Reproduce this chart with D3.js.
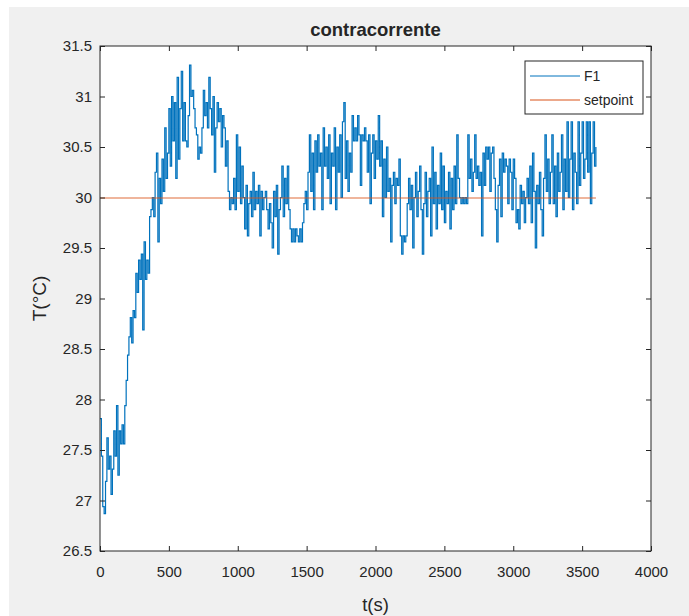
<!DOCTYPE html>
<html>
<head>
<meta charset="utf-8">
<script src="https://cdn.jsdelivr.net/npm/d3@7"></script>
<style>
  body { margin: 0; background: #fff; }
  svg { display: block; }
  text { font-family: "Liberation Sans", Arial, Helvetica, sans-serif; fill: #262626; }
</style>
</head>
<body>
<svg></svg>
<script>
// sample period of the logged signal (s)
var sampleStep = 10;

// F1 temperature, one value every 10 s, rows of 100 s
var f1 = [
  27.81, 27.44, 26.94, 26.87, 27.19, 27.62, 27.31, 27.44, 27.06, 27.31, // 0
  27.69, 27.44, 27.94, 27.25, 27.69, 27.56, 27.75, 27.56, 27.94, 28.19, // 100
  28.44, 28.62, 28.81, 28.56, 28.88, 28.81, 29.25, 29.06, 29.38, 29.19, // 200
  29.44, 28.69, 29.56, 29.19, 29.38, 29.25, 29.81, 29.88, 30.00, 29.81, // 300
  30.25, 30.44, 29.56, 30.19, 29.94, 30.38, 30.06, 30.69, 30.19, 30.44, // 400
  30.88, 30.31, 31.00, 30.56, 30.94, 30.19, 31.19, 30.38, 30.88, 31.25, // 500
  30.56, 30.94, 30.56, 30.50, 30.81, 31.31, 31.00, 31.06, 30.88, 30.69, // 600
  30.62, 30.38, 30.50, 30.44, 30.69, 31.06, 30.81, 30.94, 30.69, 31.19, // 700
  30.88, 30.62, 31.00, 30.25, 30.69, 30.94, 30.75, 30.88, 30.50, 30.81, // 800
  30.69, 30.31, 30.56, 30.06, 29.88, 30.00, 29.94, 30.19, 29.88, 30.62, // 900
  30.06, 30.50, 29.94, 30.31, 30.00, 29.69, 30.12, 29.62, 29.94, 30.06, // 1000
  29.81, 30.25, 29.88, 30.06, 29.94, 30.12, 29.62, 30.06, 29.88, 30.00, // 1100
  30.06, 29.88, 29.69, 29.94, 29.75, 29.50, 30.06, 29.81, 30.12, 29.44, // 1200
  29.88, 30.00, 30.31, 29.81, 30.19, 29.94, 30.31, 29.88, 29.69, 29.56, // 1300
  29.69, 29.56, 29.69, 29.62, 29.56, 29.69, 29.56, 29.75, 29.94, 30.06, // 1400
  29.88, 30.25, 30.62, 30.06, 30.44, 29.88, 30.56, 30.25, 30.62, 30.31, // 1500
  30.44, 29.88, 30.69, 30.31, 30.50, 30.19, 30.62, 29.94, 30.44, 30.31, // 1600
  30.69, 29.88, 30.50, 30.25, 30.62, 30.00, 30.75, 30.94, 30.19, 30.56, // 1700
  30.06, 30.44, 30.25, 30.81, 30.56, 30.69, 30.56, 30.81, 30.62, 30.12, // 1800
  30.62, 30.56, 30.69, 30.56, 30.25, 30.62, 29.94, 30.44, 30.62, 30.19, // 1900
  30.56, 30.38, 30.81, 30.31, 30.56, 29.81, 30.38, 30.00, 30.50, 30.06, // 2000
  30.19, 29.56, 30.12, 30.25, 29.94, 30.19, 30.12, 30.38, 29.62, 29.44, // 2100
  29.62, 29.56, 29.62, 29.94, 30.19, 29.88, 30.12, 29.50, 30.00, 30.25, // 2200
  29.81, 30.06, 30.31, 29.88, 29.44, 29.94, 30.25, 29.81, 30.06, 30.19, // 2300
  29.62, 30.50, 29.94, 30.25, 29.69, 30.12, 29.94, 30.44, 29.88, 30.31, // 2400
  29.75, 30.06, 29.94, 30.25, 29.69, 30.19, 29.88, 30.31, 29.94, 30.62, // 2500
  30.19, 30.00, 29.94, 30.00, 29.94, 30.00, 29.94, 30.62, 30.19, 30.38, // 2600
  30.06, 30.25, 30.62, 30.19, 30.31, 30.12, 30.25, 29.62, 30.44, 30.12, // 2700
  30.50, 30.38, 30.50, 30.06, 30.44, 30.50, 30.19, 29.88, 29.56, 30.12, // 2800
  30.38, 29.81, 30.44, 30.25, 30.38, 30.31, 29.94, 30.38, 30.25, 29.88, // 2900
  30.38, 30.19, 29.75, 29.88, 29.69, 30.12, 29.94, 30.06, 29.75, 30.00, // 3000
  30.19, 29.94, 30.31, 29.75, 30.44, 30.06, 29.50, 30.12, 29.94, 30.25, // 3100
  29.88, 29.62, 30.19, 30.62, 30.06, 30.38, 29.94, 30.25, 30.62, 29.94, // 3200
  30.31, 29.81, 30.44, 30.06, 30.25, 30.62, 29.88, 30.38, 30.06, 30.75, // 3300
  30.00, 30.38, 30.75, 29.88, 30.44, 30.25, 29.94, 30.75, 30.12, 30.44, // 3400
  30.75, 30.19, 30.38, 30.75, 30.25, 30.75, 29.94, 30.44, 30.75, 30.31, // 3500
  30.50                                                                 // 3600
];

var setpoint = 30;
var setpointSpan = [0, 3600];

var xTicks = [0, 500, 1000, 1500, 2000, 2500, 3000, 3500, 4000];
var yTicks = [26.5, 27, 27.5, 28, 28.5, 29, 29.5, 30, 30.5, 31, 31.5];
var seriesNames = ["F1", "setpoint"];
var seriesColors = ["#0072BD", "#D95319"];

var width = 689, height = 616;
var margin = {top: 46, right: 38, bottom: 65, left: 100};
var plotW = width - margin.left - margin.right,
    plotH = height - margin.top - margin.bottom;

var svg = d3.select("svg")
  .attr("width", width)
  .attr("height", height);

// figure background (screenshot has a thin white border top/left)
svg.append("rect")
  .attr("x", 9).attr("y", 7)
  .attr("width", width - 9).attr("height", height - 7)
  .attr("fill", "#f0f0f0");

var x = d3.scaleLinear().domain([0, 4000]).range([0, plotW]);
var y = d3.scaleLinear().domain([26.5, 31.5]).range([plotH, 0]);

var g = svg.append("g")
  .attr("transform", "translate(" + margin.left + "," + margin.top + ")");

g.append("rect")
  .attr("width", plotW)
  .attr("height", plotH)
  .attr("fill", "#fff");

var points = f1.map(function(v, i) { return [i * sampleStep, v]; });

// quantised sensor readings -> stair steps, like the original plot
var line = d3.line()
  .x(function(d) { return x(d[0]); })
  .y(function(d) { return y(d[1]); })
  .curve(d3.curveStepAfter);

g.append("path")
  .datum(points)
  .attr("fill", "none")
  .attr("stroke", seriesColors[0])
  .attr("stroke-width", 1.2)
  .attr("d", line);

g.append("line")
  .attr("x1", x(setpointSpan[0]))
  .attr("x2", x(setpointSpan[1]))
  .attr("y1", y(setpoint) + 0.5)
  .attr("y2", y(setpoint) + 0.5)
  .attr("stroke", seriesColors[1])
  .attr("stroke-opacity", 0.85)
  .attr("stroke-width", 1.2);

// axes, ticks pointing inward on all four sides
function styleAxis(sel) {
  sel.selectAll("path").remove();
  sel.selectAll("line").attr("stroke", "#262626");
  sel.selectAll("text").style("font-size", "15px").attr("fill", "#262626");
}

g.append("g")
  .attr("transform", "translate(0," + plotH + ")")
  .call(d3.axisBottom(x).tickValues(xTicks).tickSize(-5).tickPadding(15).tickFormat(d3.format("d")))
  .call(styleAxis);

g.append("g")
  .call(d3.axisTop(x).tickValues(xTicks).tickSize(-5).tickFormat(""))
  .call(styleAxis);

g.append("g")
  .call(d3.axisLeft(y).tickValues(yTicks).tickSize(-5).tickPadding(8).tickFormat(function(d) { return String(d); }))
  .call(styleAxis);

g.append("g")
  .attr("transform", "translate(" + plotW + ",0)")
  .call(d3.axisRight(y).tickValues(yTicks).tickSize(-5).tickFormat(""))
  .call(styleAxis);

g.append("rect")
  .attr("width", plotW)
  .attr("height", plotH)
  .attr("fill", "none")
  .attr("stroke", "#262626")
  .attr("stroke-width", 1);

// labels
svg.append("text")
  .attr("x", margin.left + plotW / 2)
  .attr("y", 36)
  .attr("text-anchor", "middle")
  .style("font-size", "18.5px")
  .style("font-weight", "bold")
  .attr("fill", "#000")
  .text("contracorrente");

svg.append("text")
  .attr("x", margin.left + plotW / 2)
  .attr("y", 611)
  .attr("text-anchor", "middle")
  .style("font-size", "18.5px")
  .text("t(s)");

svg.append("text")
  .attr("transform", "translate(46," + (margin.top + plotH / 2) + ") rotate(-90)")
  .attr("text-anchor", "middle")
  .style("font-size", "19px")
  .text("T(°C)");

// legend
var legend = svg.append("g").attr("transform", "translate(525,61)");
legend.append("rect")
  .attr("width", 118).attr("height", 53)
  .attr("fill", "#fff")
  .attr("stroke", "#262626");

seriesNames.forEach(function(name, i) {
  legend.append("line")
    .attr("x1", 5).attr("x2", 55)
    .attr("y1", 15 + i * 24).attr("y2", 15 + i * 24)
    .attr("stroke", seriesColors[i]);
  legend.append("text")
    .attr("x", 59).attr("y", 20 + i * 24)
    .style("font-size", "14px")
    .text(name);
});
</script>
</body>
</html>
